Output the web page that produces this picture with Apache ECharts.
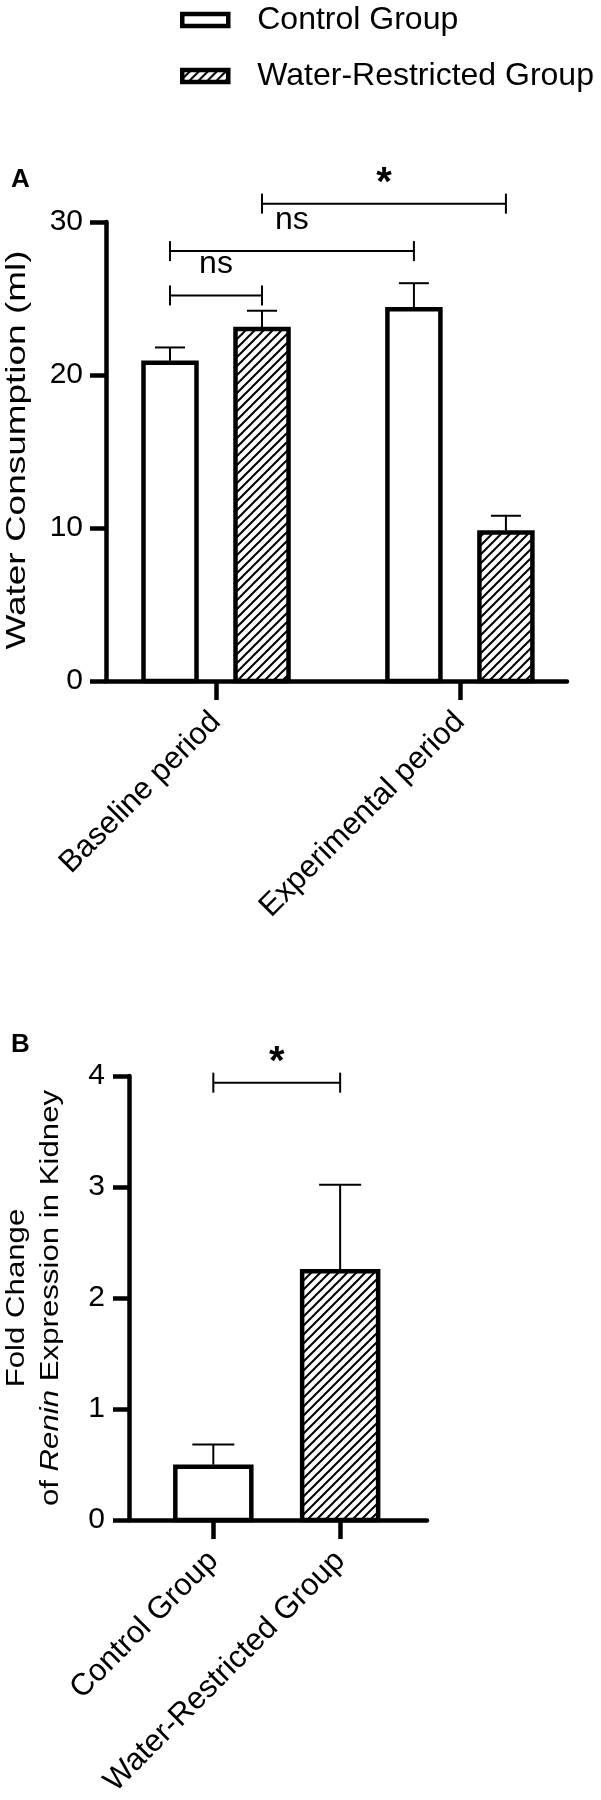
<!DOCTYPE html>
<html>
<head>
<meta charset="utf-8">
<script src="https://cdn.jsdelivr.net/npm/echarts@6/dist/echarts.min.js"></script>
<style>
  html, body { margin: 0; padding: 0; background: #fff; }
  #chart { width: 601px; height: 1800px; }
</style>
</head>
<body>
<div id="chart"></div>
<script>
// ---------- data ----------
const groupNames = ['Control Group', 'Water-Restricted Group'];

// Panel A: water consumption (ml)
const periods = ['Baseline period', 'Experimental period'];
const controlMeanA = [20.8, 24.3];
const controlUpperA = [21.8, 26.0];
const restrictedMeanA = [23.0, 9.7];
const restrictedUpperA = [24.2, 10.8];
const yTicksA = [0, 10, 20, 30];
// significance brackets, panel A (category index / series index of both ends)
const sigAFromCat = [0, 0, 0];
const sigAFromSer = [0, 0, 1];
const sigAToCat = [0, 1, 1];
const sigAToSer = [1, 0, 1];
const sigALevel = [25.2, 28.1, 31.2];
const sigALabel = ['ns', 'ns', '*'];

// Panel B: fold change of Renin expression
const groupsB = ['Control Group', 'Water-Restricted Group'];
const meanB = [0.48, 2.24];
const upperB = [0.68, 3.02];
const yTicksB = [0, 1, 2, 3, 4];
const sigBFrom = [0];
const sigBTo = [1];
const sigBLevel = [3.94];
const sigBLabel = ['*'];

// ---------- styling helpers ----------
const FONT = 'Liberation Sans, Arial, Helvetica, sans-serif';

function makeHatch() {
  const s = 9;
  const c = document.createElement('canvas');
  c.width = s; c.height = s;
  const g = c.getContext('2d');
  g.fillStyle = '#fff';
  g.fillRect(0, 0, s, s);
  g.strokeStyle = '#000';
  g.lineWidth = 2;
  g.beginPath();
  g.moveTo(-1, s + 1); g.lineTo(s + 1, -1);
  g.moveTo(-2, 2); g.lineTo(2, -2);
  g.moveTo(s - 2, s + 2); g.lineTo(s + 2, s - 2);
  g.stroke();
  return c;
}
const hatch = { image: makeHatch(), repeat: 'repeat' };
const fills = ['#ffffff', hatch];

function barRenderer(offsetPx, widthPx, capPx, fill) {
  return function (params, api) {
    const x = api.value(0), v = api.value(1), up = api.value(2);
    const top = api.coord([x, v]);
    const base = api.coord([x, 0]);
    const err = api.coord([x, up]);
    const cx = top[0] + offsetPx;
    return {
      type: 'group',
      children: [
        { type: 'rect',
          shape: { x: cx - widthPx / 2, y: top[1], width: widthPx, height: base[1] - top[1] },
          style: { fill: fill, stroke: '#000', lineWidth: 4.5 } },
        { type: 'line', shape: { x1: cx, y1: top[1] - 2, x2: cx, y2: err[1] },
          style: { stroke: '#000', lineWidth: 2 } },
        { type: 'line', shape: { x1: cx - capPx / 2, y1: err[1], x2: cx + capPx / 2, y2: err[1] },
          style: { stroke: '#000', lineWidth: 2 } }
      ]
    };
  };
}

function bracketRenderer(offsets) {
  return function (params, api) {
    const fc = api.value(0), fs = api.value(1), tc = api.value(2), ts = api.value(3), lv = api.value(4);
    const p1 = api.coord([fc, lv]);
    const p2 = api.coord([tc, lv]);
    const x1 = p1[0] + offsets[fs], x2 = p2[0] + offsets[ts], y = p1[1];
    const txt = api.value(5) === 1 ? '*' : 'ns';
    const isStar = txt === '*';
    return {
      type: 'group',
      children: [
        { type: 'line', shape: { x1: x1, y1: y, x2: x2, y2: y }, style: { stroke: '#000', lineWidth: 2 } },
        { type: 'line', shape: { x1: x1, y1: y - 10, x2: x1, y2: y + 10 }, style: { stroke: '#000', lineWidth: 2 } },
        { type: 'line', shape: { x1: x2, y1: y - 10, x2: x2, y2: y + 10 }, style: { stroke: '#000', lineWidth: 2 } },
        { type: 'text', x: (x1 + x2) / 2, y: isStar ? y - 20 : y - 31,
          style: { text: txt, fill: '#000',
                   fontSize: isStar ? 40 : 32, fontWeight: isStar ? 'bold' : 'normal', fontFamily: FONT,
                   align: 'center', verticalAlign: 'middle', textAlign: 'center', textVerticalAlign: 'middle' } }
      ]
    };
  };
}

// ---------- build series data ----------
const dataCtrlA = periods.map((p, i) => [i, controlMeanA[i], controlUpperA[i]]);
const dataWrA = periods.map((p, i) => [i, restrictedMeanA[i], restrictedUpperA[i]]);
const dataSigA = sigALabel.map((l, i) => [sigAFromCat[i], sigAFromSer[i], sigAToCat[i], sigAToSer[i], sigALevel[i], l === '*' ? 1 : 0]);
const dataCtrlB = [[0, meanB[0], upperB[0]]];
const dataWrB = [[1, meanB[1], upperB[1]]];
const dataSigB = sigBLabel.map((l, i) => [sigBFrom[i], 0, sigBTo[i], 0, sigBLevel[i], l === '*' ? 1 : 0]);

const axisLineStyle = { color: '#000', width: 4.5 };
const tickLabelStyle = { color: '#000', fontSize: 30, fontFamily: FONT };

const option = {
  animation: false,
  backgroundColor: '#fff',
  legend: {
    orient: 'vertical',
    left: 180,
    top: 2,
    padding: 0,
    itemWidth: 46,
    itemHeight: 12,
    itemGap: 20,
    icon: 'rect',
    selectedMode: false,
    itemStyle: { borderColor: '#000', borderWidth: 4.5 },
    textStyle: { color: '#000', fontSize: 32, fontFamily: FONT, padding: [0, 0, 0, 24], lineHeight: 36 },
    data: [
      { name: groupNames[0], itemStyle: { color: fills[0] } },
      { name: groupNames[1], itemStyle: { color: fills[1] } }
    ]
  },
  grid: [
    { left: 106, top: 222, width: 461, height: 459 },
    { left: 129, top: 1076, width: 298, height: 444 }
  ],
  xAxis: [
    {
      type: 'value', gridIndex: 0, min: -0.451, max: 1.439,
      splitLine: { show: false },
      axisLine: { show: true, onZero: false, lineStyle: axisLineStyle },
      axisTick: { show: true, customValues: [0, 1], length: 19, lineStyle: axisLineStyle },
      axisLabel: { show: true, customValues: [0, 1], rotate: 45, margin: 36,
        formatter: v => periods[Math.round(v)] || '',
        color: '#000', fontSize: 31, fontFamily: FONT }
    },
    {
      type: 'value', gridIndex: 1, min: -0.665, max: 1.685,
      splitLine: { show: false },
      axisLine: { show: true, onZero: false, lineStyle: axisLineStyle },
      axisTick: { show: true, customValues: [0, 1], length: 19, lineStyle: axisLineStyle },
      axisLabel: { show: true, customValues: [0, 1], rotate: 45, margin: 36,
        formatter: v => groupsB[Math.round(v)] || '',
        color: '#000', fontSize: 31, fontFamily: FONT }
    }
  ],
  yAxis: [
    {
      type: 'value', gridIndex: 0, min: yTicksA[0], max: yTicksA[yTicksA.length - 1], interval: 10,
      splitLine: { show: false },
      axisLine: { show: true, onZero: false, lineStyle: axisLineStyle },
      axisTick: { show: true, length: 16, lineStyle: axisLineStyle },
      axisLabel: Object.assign({ margin: 23 }, tickLabelStyle)
    },
    {
      type: 'value', gridIndex: 1, min: yTicksB[0], max: yTicksB[yTicksB.length - 1], interval: 1,
      splitLine: { show: false },
      axisLine: { show: true, onZero: false, lineStyle: axisLineStyle },
      axisTick: { show: true, length: 16, lineStyle: axisLineStyle },
      axisLabel: Object.assign({ margin: 24 }, tickLabelStyle)
    }
  ],
  graphic: [
    { type: 'text', left: 11, top: 167,
      style: { text: 'A', fill: '#000', fontSize: 26, fontWeight: 'bold', fontFamily: FONT } },
    { type: 'text', left: 11, top: 1032,
      style: { text: 'B', fill: '#000', fontSize: 26, fontWeight: 'bold', fontFamily: FONT } },
    { type: 'text', x: 17, y: 450, rotation: Math.PI / 2, scaleX: 1.32,
      style: { text: 'Water Consumption (ml)', fill: '#000', fontSize: 28, fontFamily: FONT,
               align: 'center', verticalAlign: 'middle', textAlign: 'center', textVerticalAlign: 'middle' } },
    { type: 'text', x: 17, y: 1298, rotation: Math.PI / 2, scaleX: 1.2,
      style: { text: 'Fold Change', fill: '#000', fontSize: 26, fontFamily: FONT,
               align: 'center', verticalAlign: 'middle', textAlign: 'center', textVerticalAlign: 'middle' } },
    { type: 'text', x: 51, y: 1298, rotation: Math.PI / 2, scaleX: 1.2,
      style: { text: 'of {i|Renin} Expression in Kidney', fill: '#000', fontSize: 26, fontFamily: FONT,
               align: 'center', verticalAlign: 'middle', textAlign: 'center', textVerticalAlign: 'middle',
               rich: { i: { fontStyle: 'italic', fontSize: 26, fontFamily: FONT, fill: '#000' } } } }
  ],
  series: [
    { name: groupNames[0], type: 'custom', xAxisIndex: 0, yAxisIndex: 0,
      itemStyle: { color: fills[0], borderColor: '#000' },
      renderItem: barRenderer(-46, 53, 30, fills[0]), data: dataCtrlA, z: 3 },
    { name: groupNames[1], type: 'custom', xAxisIndex: 0, yAxisIndex: 0,
      itemStyle: { color: fills[1], borderColor: '#000' },
      renderItem: barRenderer(46, 53, 30, fills[1]), data: dataWrA, z: 3 },
    { name: 'sigA', type: 'custom', xAxisIndex: 0, yAxisIndex: 0,
      renderItem: bracketRenderer([-46, 46]), data: dataSigA, z: 4, silent: true },
    { name: groupNames[0], type: 'custom', xAxisIndex: 1, yAxisIndex: 1,
      itemStyle: { color: fills[0], borderColor: '#000' },
      renderItem: barRenderer(0, 76, 42, fills[0]), data: dataCtrlB, z: 3 },
    { name: groupNames[1], type: 'custom', xAxisIndex: 1, yAxisIndex: 1,
      itemStyle: { color: fills[1], borderColor: '#000' },
      renderItem: barRenderer(0, 76, 42, fills[1]), data: dataWrB, z: 3 },
    { name: 'sigB', type: 'custom', xAxisIndex: 1, yAxisIndex: 1,
      renderItem: bracketRenderer([0, 0]), data: dataSigB, z: 4, silent: true }
  ]
};

const chart = echarts.init(document.getElementById('chart'), null, { renderer: 'canvas' });
chart.setOption(option);
</script>
</body>
</html>
